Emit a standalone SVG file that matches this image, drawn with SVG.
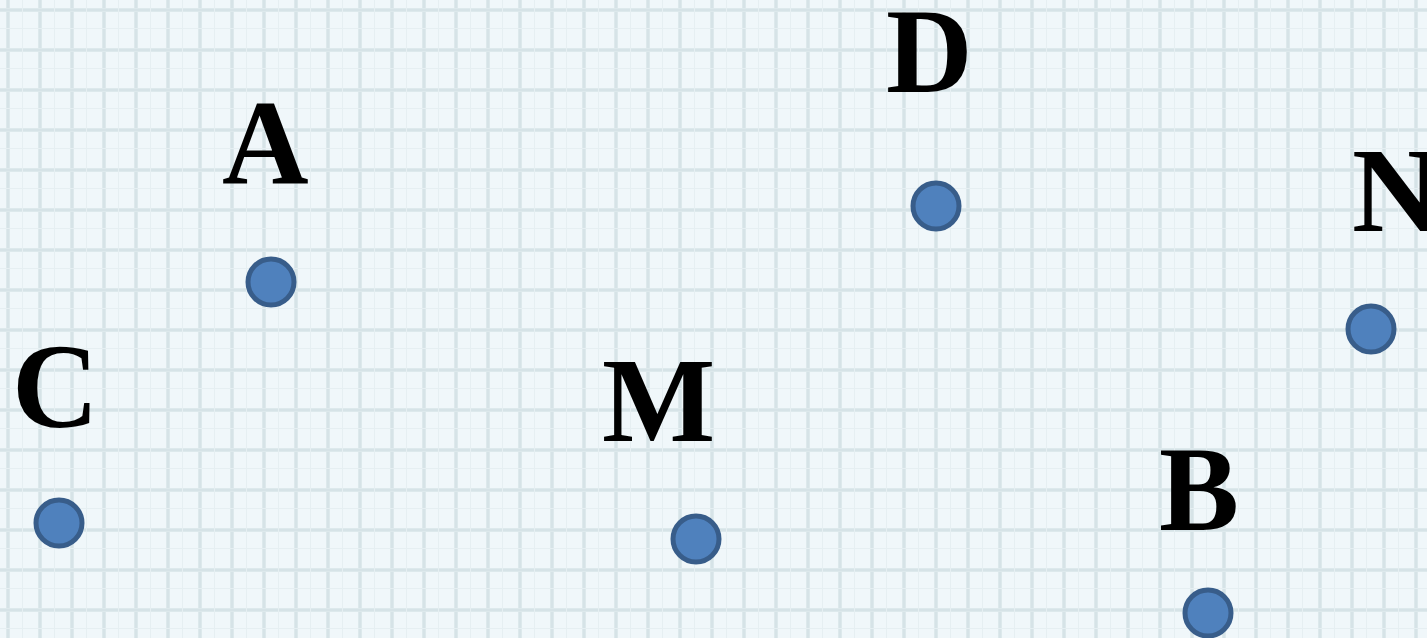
<svg xmlns="http://www.w3.org/2000/svg" width="1427" height="638" viewBox="0 0 1427 638">
<style>
.lbl{font-family:"Liberation Serif","Times New Roman",serif;font-weight:bold;font-size:120px;fill:#000}
.pt{fill:#4f81bd;stroke:#385d8a;stroke-width:5}
</style>
<defs>
<pattern id="grid" x="6" y="8" width="32" height="40" patternUnits="userSpaceOnUse">
<rect x="0" y="0" width="32" height="40" fill="#f0f7fa"/>
<rect x="0" y="0" width="4" height="40" fill="#dde9ec"/>
<rect x="1" y="0" width="2" height="40" fill="#d6e3e7"/>
<rect x="0" y="0" width="32" height="4" fill="#dde9ec"/>
<rect x="0" y="1" width="32" height="2" fill="#d6e3e7"/>
<rect x="16" y="0" width="1" height="40" fill="#e6eff2"/>
<rect x="0" y="20" width="32" height="1" fill="#e6eff2"/>
</pattern>
</defs>
<rect width="1427" height="638" fill="url(#grid)"/>
<g id="node-A"><text class="lbl" x="222" y="183">A</text><circle class="pt" cx="271" cy="282" r="23"/></g>
<g id="node-D"><text class="lbl" x="886" y="92">D</text><circle class="pt" cx="936" cy="206" r="23"/></g>
<g id="node-N"><text class="lbl" x="1352" y="231">N</text><circle class="pt" cx="1371" cy="329" r="23"/></g>
<g id="node-C"><text class="lbl" x="12" y="427">C</text><circle class="pt" cx="59" cy="523" r="23"/></g>
<g id="node-M"><text class="lbl" x="602" y="441">M</text><circle class="pt" cx="696" cy="539" r="23"/></g>
<g id="node-B"><text class="lbl" x="1159" y="530">B</text><circle class="pt" cx="1208" cy="613" r="23"/></g>
<g id="connectors"/>
</svg>
